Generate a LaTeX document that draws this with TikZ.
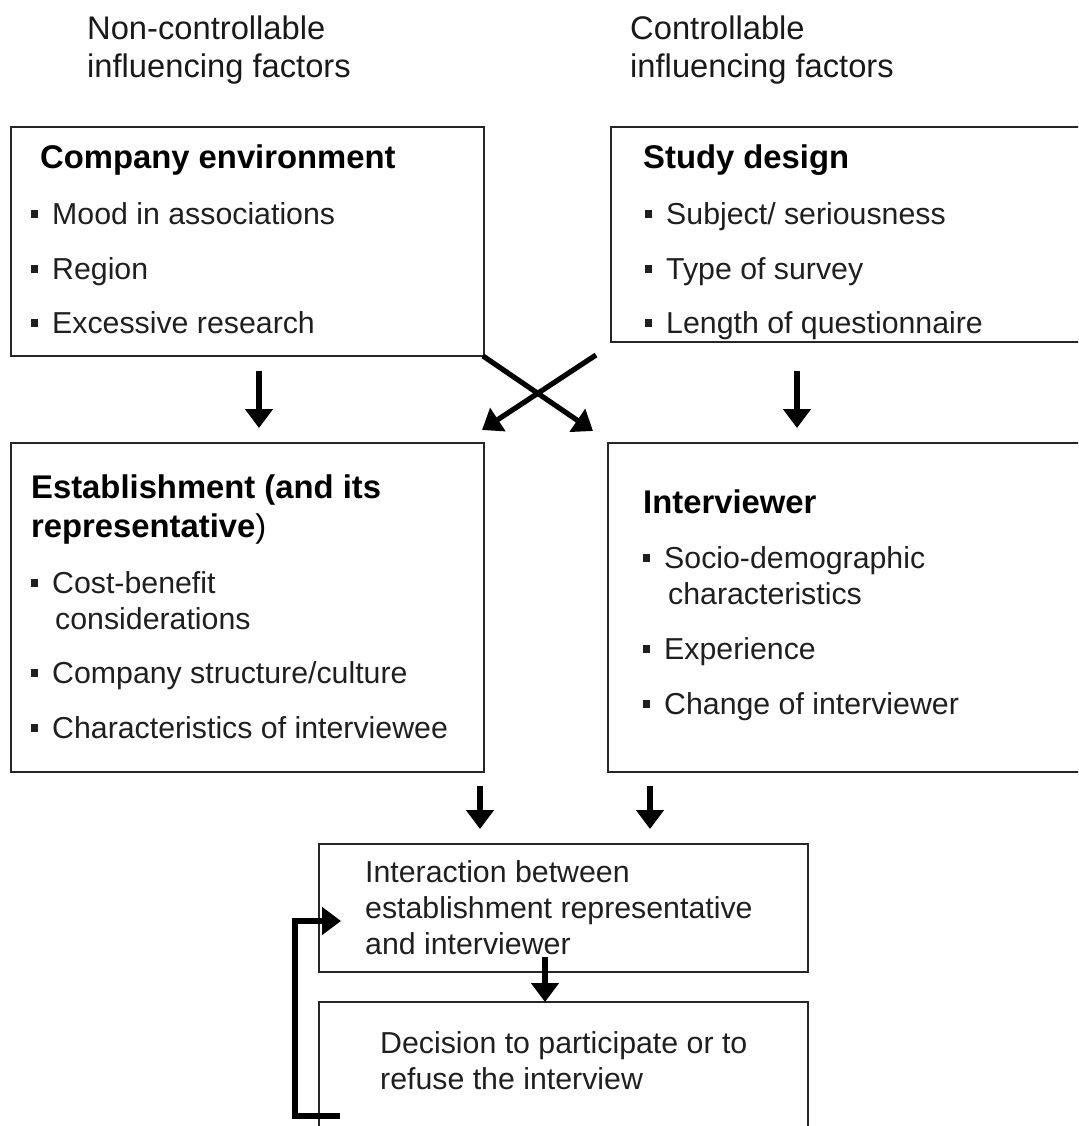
\documentclass[tikz,border=0pt]{standalone}
\usepackage{fontspec}
\setmainfont{Liberation Sans}
\usetikzlibrary{arrows.meta}
\newcommand{\sqbul}{\makebox[21pt][l]{\rule[6.5pt]{7pt}{7.5pt}}}
\begin{document}
\begin{tikzpicture}[x=1pt,y=-1pt,
  box/.style={draw=black!85, line width=1.6pt, inner sep=0pt, outer sep=0pt, rectangle, anchor=north west},
  txt/.style={anchor=base west, inner sep=0pt, text=black!88, font=\fontsize{30.3}{36}\selectfont},
  ttl/.style={anchor=base west, inner sep=0pt, text=black, font=\fontsize{32.8}{38}\selectfont\bfseries},
  hdr/.style={anchor=base west, inner sep=0pt, text=black!90, font=\fontsize{32.7}{38}\selectfont},
  arr/.style={line width=5.2pt, draw=black, -{Triangle[width=27pt,length=19pt]}},
]
\useasboundingbox (0,0) rectangle (1078,1126);
\clip (0,0) rectangle (1078,1126);

% headers
\node[hdr] (h1a) at (87,40) {Non-controllable};
\node[hdr] (h1b) at (87,78) {influencing factors};
\node[hdr] (h2a) at (630,40) {Controllable};
\node[hdr] (h2b) at (630,78) {influencing factors};

% boxes
\node[box, minimum width=473pt, minimum height=229pt] (ce) at (11,127) {};
\node[box, minimum width=480pt, minimum height=215pt] (sd) at (611,127) {};
\node[box, minimum width=473pt, minimum height=329pt] (est) at (11,443) {};
\node[box, minimum width=480pt, minimum height=329pt] (int) at (608,443) {};
\node[box, minimum width=489pt, minimum height=128pt] (ia) at (319,844) {};
\node[box, minimum width=489pt, minimum height=200pt] (dec) at (319,1002) {};

% company environment
\node[ttl] (ceT) at (40,168) {Company environment};
\node[txt] (ce1) at (31,224) {\sqbul Mood in associations};
\node[txt] (ce2) at (31,279) {\sqbul Region};
\node[txt] (ce3) at (31,333) {\sqbul Excessive research};

% study design
\node[ttl] (sdT) at (643,168) {Study design};
\node[txt] (sd1) at (645,224) {\sqbul Subject/ seriousness};
\node[txt] (sd2) at (645,279) {\sqbul Type of survey};
\node[txt] (sd3) at (645,333) {\sqbul Length of questionnaire};

% establishment
\node[ttl] (estT1) at (31,498) {Establishment (and its};
\node[ttl] (estT2) at (31,537) {representative\mdseries)};
\node[txt] (est1a) at (31,593) {\sqbul Cost-benefit};
\node[txt] (est1b) at (55,629) {considerations};
\node[txt] (est2) at (31,683) {\sqbul Company structure/culture};
\node[txt] (est3) at (31,738) {\sqbul Characteristics of interviewee};

% interviewer
\node[ttl] (intT) at (643,513) {Interviewer};
\node[txt] (int1a) at (643,568) {\sqbul Socio-demographic};
\node[txt] (int1b) at (668,604) {characteristics};
\node[txt] (int2) at (643,659) {\sqbul Experience};
\node[txt] (int3) at (643,714) {\sqbul Change of interviewer};

% interaction
\node[txt] (ia1) at (365,882) {Interaction between};
\node[txt] (ia2) at (365,918) {establishment representative};
\node[txt] (ia3) at (365,954) {and interviewer};

% decision
\node[txt] (dec1) at (380,1053) {Decision to participate or to};
\node[txt] (dec2) at (380,1089) {refuse the interview};

% connector end points
\coordinate (a1s) at (259,371); \coordinate (a1e) at (259,428);
\coordinate (a2s) at (797,371); \coordinate (a2e) at (797,428);
\coordinate (x1s) at (483,356); \coordinate (x1e) at (593,431);
\coordinate (x2s) at (596,355); \coordinate (x2e) at (482,430);
\coordinate (b1s) at (480,786); \coordinate (b1e) at (480,829);
\coordinate (b2s) at (650,786); \coordinate (b2e) at (650,829);
\coordinate (m1s) at (545,957); \coordinate (m1e) at (545,1002);
\coordinate (l0) at (340,1116); \coordinate (l1) at (295,1116);
\coordinate (l2) at (295,921); \coordinate (l3) at (341,921);

\draw[arr] (a1s) -- (a1e);
\draw[arr] (a2s) -- (a2e);
\draw[arr] (x1s) -- (x1e);
\draw[arr] (x2s) -- (x2e);
\draw[arr] (b1s) -- (b1e);
\draw[arr] (b2s) -- (b2e);
\draw[arr] (m1s) -- (m1e);
\draw[arr] (l0) -- (l1) -- (l2) -- (l3);
\end{tikzpicture}
\end{document}
